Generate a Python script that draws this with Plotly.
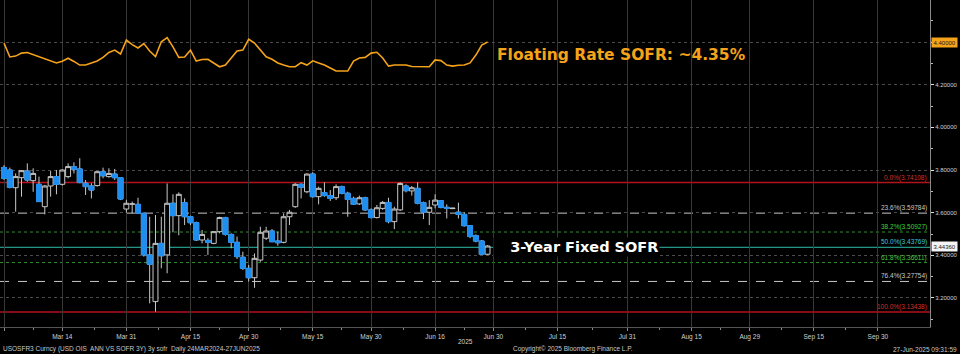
import pandas as pd
import plotly.graph_objects as go

# ---------------- data ----------------
holidays = ["2025-04-18", "2025-05-26"]
calendar = [d for d in pd.bdate_range("2025-02-28", "2025-10-14")
            if d.strftime("%Y-%m-%d") not in holidays]
cal_index = {d.strftime("%Y-%m-%d"): i for i, d in enumerate(calendar)}

open_ = [3.812, 3.800, 3.717, 3.764, 3.795, 3.750, 3.733, 3.628, 3.725, 3.769,
         3.733, 3.769, 3.816, 3.805, 3.738, 3.725, 3.727, 3.792, 3.769, 3.781,
         3.764, 3.617, 3.640, 3.639, 3.597, 3.402, 3.183, 3.456, 3.402, 3.644,
         3.586, 3.647, 3.581, 3.553, 3.472, 3.470, 3.456, 3.511, 3.577, 3.498,
         3.461, 3.391, 3.339, 3.295, 3.378, 3.480, 3.514, 3.467, 3.461, 3.581,
         3.628, 3.733, 3.698, 3.781, 3.675, 3.694, 3.680, 3.670, 3.722, 3.691,
         3.667, 3.641, 3.670, 3.613, 3.577, 3.620, 3.648, 3.558, 3.613, 3.725,
         3.702, 3.714, 3.647, 3.602, 3.636, 3.656, 3.625, 3.619, 3.602, 3.592,
         3.539, 3.492, 3.467, 3.405]
high = [3.823, 3.811, 3.784, 3.800, 3.831, 3.808, 3.769, 3.730, 3.795, 3.800,
        3.803, 3.831, 3.836, 3.855, 3.753, 3.738, 3.795, 3.811, 3.808, 3.805,
        3.764, 3.660, 3.652, 3.670, 3.600, 3.581, 3.589, 3.581, 3.737, 3.686,
        3.695, 3.667, 3.586, 3.558, 3.519, 3.480, 3.514, 3.581, 3.581, 3.503,
        3.488, 3.417, 3.355, 3.409, 3.534, 3.534, 3.523, 3.511, 3.597, 3.613,
        3.738, 3.738, 3.784, 3.789, 3.722, 3.742, 3.706, 3.733, 3.727, 3.698,
        3.675, 3.680, 3.675, 3.620, 3.636, 3.655, 3.670, 3.628, 3.742, 3.733,
        3.725, 3.742, 3.652, 3.659, 3.686, 3.659, 3.639, 3.623, 3.647, 3.602,
        3.542, 3.498, 3.472, 3.448]
low = [3.753, 3.714, 3.605, 3.675, 3.745, 3.698, 3.652, 3.592, 3.675, 3.686,
       3.727, 3.761, 3.784, 3.738, 3.683, 3.667, 3.722, 3.761, 3.764, 3.753,
       3.659, 3.600, 3.597, 3.594, 3.394, 3.175, 3.136, 3.339, 3.316, 3.508,
       3.494, 3.542, 3.542, 3.467, 3.456, 3.402, 3.452, 3.503, 3.492, 3.433,
       3.383, 3.331, 3.277, 3.248, 3.370, 3.472, 3.461, 3.445, 3.456, 3.542,
       3.623, 3.667, 3.691, 3.670, 3.639, 3.675, 3.655, 3.659, 3.686, 3.581,
       3.636, 3.636, 3.608, 3.573, 3.573, 3.613, 3.550, 3.523, 3.608, 3.695,
       3.680, 3.639, 3.570, 3.542, 3.620, 3.620, 3.573, 3.617, 3.573, 3.534,
       3.480, 3.461, 3.402, 3.402]
close = [3.761, 3.719, 3.769, 3.797, 3.753, 3.784, 3.652, 3.725, 3.769, 3.733,
         3.800, 3.816, 3.803, 3.741, 3.722, 3.706, 3.792, 3.773, 3.784, 3.764,
         3.664, 3.644, 3.641, 3.597, 3.402, 3.358, 3.456, 3.398, 3.644, 3.586,
         3.686, 3.581, 3.553, 3.472, 3.498, 3.461, 3.511, 3.577, 3.498, 3.461,
         3.394, 3.339, 3.295, 3.386, 3.508, 3.514, 3.464, 3.459, 3.581, 3.602,
         3.733, 3.719, 3.781, 3.675, 3.714, 3.680, 3.667, 3.722, 3.691, 3.662,
         3.639, 3.670, 3.613, 3.577, 3.623, 3.648, 3.558, 3.617, 3.737, 3.703,
         3.717, 3.644, 3.602, 3.625, 3.659, 3.625, 3.620, 3.621, 3.592, 3.539,
         3.488, 3.467, 3.405, 3.4436]
floating = [4.395, 4.330, 4.334, 4.348, 4.351, 4.341, 4.330, 4.320, 4.311, 4.302,
            4.310, 4.324, 4.309, 4.292, 4.292, 4.300, 4.311, 4.328, 4.351, 4.362,
            4.344, 4.409, 4.388, 4.372, 4.393, 4.358, 4.332, 4.401, 4.421, 4.377,
            4.328, 4.330, 4.362, 4.311, 4.318, 4.319, 4.302, 4.284, 4.292, 4.325,
            4.358, 4.362, 4.413, 4.395, 4.362, 4.331, 4.319, 4.302, 4.292, 4.284,
            4.284, 4.303, 4.292, 4.312, 4.302, 4.292, 4.278, 4.264, 4.264, 4.264,
            4.311, 4.325, 4.328, 4.348, 4.352, 4.325, 4.287, 4.292, 4.292, 4.292,
            4.285, 4.284, 4.284, 4.284, 4.316, 4.313, 4.292, 4.287, 4.291, 4.292,
            4.302, 4.339, 4.386, 4.400]

tick_dates = ["2025-02-28", "2025-03-14", "2025-03-31", "2025-04-15", "2025-04-30",
              "2025-05-15", "2025-05-30", "2025-06-16", "2025-06-30", "2025-07-15",
              "2025-07-31", "2025-08-15", "2025-08-29", "2025-09-15", "2025-09-30"]
tick_labels = ["", "Mar 14", "Mar 31", "Apr 15", "Apr 30", "May 15", "May 30",
               "Jun 16", "Jun 30", "Jul 15", "Jul 31", "Aug 15", "Aug 29",
               "Sep 15", "Sep 30"]

y_ticks = [3.2, 3.4, 3.6, 3.8, 4.0, 4.2, 4.4]

fib_pct = [0.0, 23.6, 38.2, 50.0, 61.8, 76.4, 100.0]
fib_vals = [3.74108, 3.59784, 3.50927, 3.43769, 3.36611, 3.27754, 3.13438]

# ---------------- styles ----------------
BLUE = "#1f8ef1"
HOLLOW = "#c8c8c8"
ORANGE = "#f5a31a"
fib_colors = ["#b3121c", "#c8c8c8", "#2f8f2f", "#2fbfa8", "#2f8f2f", "#c8c8c8", "#b3121c"]
fib_text_colors = ["#d0302a", "#c8c8c8", "#3fcf3f", "#3fc8d8", "#3fcf3f", "#c8c8c8", "#d0302a"]
fib_dash = ["solid", "dash", "dot", "solid", "dot", "dash", "solid"]
fib_width = [1.5, 1, 1, 1, 1, 1, 1.5]
SMALL = "Liberation Sans, Arial, sans-serif"

n = len(close)
xs = list(range(n))
down_x = [i for i in xs if close[i] < open_[i]]

fig = go.Figure()

# fib retracement lines
for p, v, c, d, w, tc in zip(fib_pct, fib_vals, fib_colors, fib_dash, fib_width, fib_text_colors):
    fig.add_shape(type="line", xref="paper", x0=0, x1=1, yref="y", y0=v, y1=v,
                  line=dict(color=c, width=w, dash=d), layer="below")
    fig.add_annotation(xref="paper", x=0.998, xanchor="right", yref="y", y=v,
                       yanchor="bottom", text=f"{p:.1f}%({v:.5f})", showarrow=False,
                       font=dict(family=SMALL, size=6.5, color=tc), borderpad=0)

# full candles (gray wicks)
fig.add_trace(go.Candlestick(
    x=xs, open=open_, high=high, low=low, close=close,
    increasing=dict(line=dict(color=HOLLOW, width=1), fillcolor="#000000"),
    decreasing=dict(line=dict(color=HOLLOW, width=1), fillcolor=BLUE),
    whiskerwidth=0, showlegend=False, hoverinfo="skip"))
# blue bodies on down days
fig.add_trace(go.Candlestick(
    x=down_x, open=[open_[i] for i in down_x], close=[close[i] for i in down_x],
    high=[open_[i] for i in down_x], low=[close[i] for i in down_x],
    increasing=dict(line=dict(color=BLUE, width=1), fillcolor=BLUE),
    decreasing=dict(line=dict(color=BLUE, width=1), fillcolor=BLUE),
    whiskerwidth=0, showlegend=False, hoverinfo="skip"))

# floating SOFR line
fig.add_trace(go.Scatter(x=xs, y=floating, mode="lines",
                         line=dict(color=ORANGE, width=1.6), showlegend=False,
                         hoverinfo="skip"))

tickvals = [cal_index[d] for d in tick_dates]
minor_vals = [(a + b) / 2 for a, b in zip(tickvals[:-1], tickvals[1:])]
# the last-value box replaces the axis label it sits on
y_ticktext = ["" if abs(t - round(floating[-1], 1)) < 1e-9 else f"{t:.5f}" for t in y_ticks]

fig.update_layout(
    width=960, height=354,
    margin=dict(l=0, r=30, t=0, b=27),
    paper_bgcolor="#000000", plot_bgcolor="#000000",
    boxgap=0.08, boxgroupgap=0.08,
    showlegend=False,
    font=dict(family=SMALL, size=6.5, color="#d0d0d0"),
    xaxis=dict(
        range=[-0.69, 158.95], tickmode="array", tickvals=tickvals, ticktext=tick_labels,
        showgrid=True, gridcolor="#383838", gridwidth=1,
        ticks="outside", ticklen=3, tickcolor="#8a8a8a",
        showline=True, linecolor="#555555", linewidth=1,
        tickfont=dict(family=SMALL, size=6.5, color="#d0d0d0"),
        rangeslider=dict(visible=False), zeroline=False,
        minor=dict(tickvals=minor_vals, ticks="outside", ticklen=2, tickcolor="#8a8a8a",
                   showgrid=False),
    ),
    yaxis=dict(
        side="right", range=[3.064, 4.597], tickmode="array", tickvals=y_ticks,
        ticktext=y_ticktext,
        showgrid=True, gridcolor="#4a4a4a", griddash="dot", gridwidth=1,
        ticks="outside", ticklen=3, tickcolor="#e0e0e0",
        showline=True, linecolor="#8a8a8a", linewidth=1, zeroline=False,
        tickfont=dict(family=SMALL, size=6, color="#d0d0d0"),
        minor=dict(dtick=0.1, tick0=0, ticks="outside", ticklen=2, tickcolor="#bbbbbb",
                   showgrid=False),
    ),
)

# big labels
fig.add_annotation(xref="paper", x=495 / 930, xanchor="left", yref="paper", y=1 - 55 / 327,
                   yanchor="middle", text="<b>Floating Rate SOFR: ~4.35%</b>", showarrow=False,
                   font=dict(family="DejaVu Sans", size=15.5, color=ORANGE))
fig.add_annotation(xref="paper", x=493 / 930, xanchor="left", yref="y", y=fib_vals[3],
                   yanchor="middle", text="<b>\u00a0\u00a0\u00a03-Year Fixed SOFR</b>",
                   showarrow=False, bgcolor="#000000",
                   font=dict(family="DejaVu Sans", size=14.5, color="#ffffff"))

# last-value boxes on the axis
fig.add_annotation(xref="paper", x=1, xanchor="left", yref="y", y=floating[-1],
                   yanchor="middle", text=f"{floating[-1]:.5f}", showarrow=False,
                   bgcolor=ORANGE, borderpad=1.5, xshift=1,
                   font=dict(family=SMALL, size=6, color="#1a1a1a"))
fig.add_annotation(xref="paper", x=1, xanchor="left", yref="y", y=close[-1],
                   yanchor="middle", text=f"{close[-1]:.5f}", showarrow=False,
                   bgcolor="#f4f4f4", borderpad=1.5, xshift=1,
                   font=dict(family=SMALL, size=6, color="#1a1a1a"))

# year & footer
fig.add_annotation(xref="paper", x=465 / 930, xanchor="center", yref="paper", y=-(341 - 327) / 327,
                   yanchor="middle", text="2025", showarrow=False,
                   font=dict(family=SMALL, size=6.5, color="#d0d0d0"))
fig.add_annotation(xref="paper", x=1 / 930, xanchor="left", yref="paper", y=-(349 - 327) / 327,
                   yanchor="middle", showarrow=False,
                   text="USOSFR3 Curncy (USD OIS  ANN VS SOFR 3Y) 3y sofr  Daily 24MAR2024-27JUN2025",
                   font=dict(family=SMALL, size=6.5, color="#c8c8c8"))
fig.add_annotation(xref="paper", x=511 / 930, xanchor="left", yref="paper", y=-(349 - 327) / 327,
                   yanchor="middle", showarrow=False,
                   text="Copyright\u00a9 2025 Bloomberg Finance L.P.",
                   font=dict(family=SMALL, size=6.5, color="#c8c8c8"))
fig.add_annotation(xref="paper", x=959 / 930, xanchor="right", yref="paper", y=-(349 - 327) / 327,
                   yanchor="middle", showarrow=False, text="27-Jun-2025 09:31:59",
                   font=dict(family=SMALL, size=6.5, color="#c8c8c8"))

fig.write_html("out.html")
